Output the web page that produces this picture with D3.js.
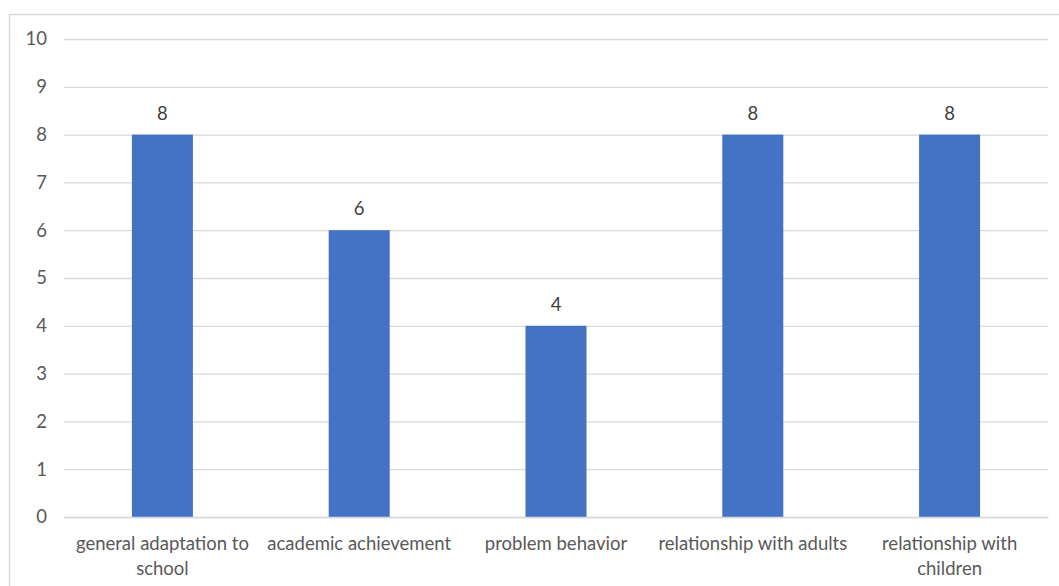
<!DOCTYPE html>
<html><head><meta charset="utf-8">
<script src="https://cdn.jsdelivr.net/npm/d3@7"></script>
<style>body{margin:0;background:#fff}svg{display:block}text{font-family:Lato,"Open Sans",sans-serif}</style>
</head><body>
<svg id="c" width="1059" height="586"></svg>
<script>
const categories = ["general adaptation to school","academic achievement","problem behavior","relationship with adults","relationship with children"];
const values = [8,6,4,8,8];
const yTicks = [0,1,2,3,4,5,6,7,8,9,10];

const FS = "18.5px";
const svg = d3.select("#c");
const m = {l:64, r:1048, t:39, b:517};
svg.append("rect").attr("x",9.5).attr("y",14.5).attr("width",1060).attr("height",600)
  .attr("fill","none").attr("stroke","#d9d9d9").attr("stroke-width",1.5);

const x = d3.scaleBand().domain(categories).range([m.l,m.r]).paddingInner(0.69).paddingOuter(0.345);
const y = d3.scaleLinear().domain([0,10]).range([m.b,m.t]);

const yAxis = svg.append("g").attr("transform",`translate(${m.l},0)`)
  .call(d3.axisLeft(y).tickValues(yTicks).tickSize(-(m.r-m.l)).tickPadding(17).tickFormat(d3.format("d")));
yAxis.select(".domain").remove();
yAxis.selectAll(".tick line").attr("stroke","#d9d9d9").attr("stroke-width",1.3);
yAxis.selectAll(".tick text").attr("fill","#595959").style("font-size",FS);

svg.append("g").selectAll("rect").data(values).join("rect")
  .attr("x",(d,i)=>x(categories[i])).attr("width",x.bandwidth())
  .attr("y",d=>y(d)).attr("height",d=>y(0)-y(d)).attr("fill","#4472C4");

svg.append("g").selectAll("text").data(values).join("text")
  .attr("x",(d,i)=>x(categories[i])+x.bandwidth()/2).attr("y",d=>y(d)-15)
  .attr("text-anchor","middle").attr("fill","#404040").style("font-size",FS).text(d=>d);

const xAxis = svg.append("g").attr("transform",`translate(0,${m.b})`)
  .call(d3.axisBottom(x).tickSize(0).tickPadding(0));
xAxis.select(".domain").attr("stroke","#d9d9d9").attr("stroke-width",1.3);
xAxis.selectAll(".tick text").each(function(d){
  const t = d3.select(this).text(null).attr("fill","#595959").style("font-size",FS).attr("y",0).attr("dy",null);
  const words = d.split(" "); const maxW = 200;
  let lines=[], cur=[];
  const tmp = svg.append("text").style("font-size",FS);
  words.forEach(w=>{ const tr=cur.concat(w).join(" "); tmp.text(tr);
    if(tmp.node().getComputedTextLength()>maxW && cur.length){lines.push(cur.join(" ")); cur=[w];} else cur.push(w);});
  lines.push(cur.join(" ")); tmp.remove();
  lines.forEach((l,i)=>t.append("tspan").attr("x",0).attr("y",33+i*25).text(l));
});
</script>
</body></html>
